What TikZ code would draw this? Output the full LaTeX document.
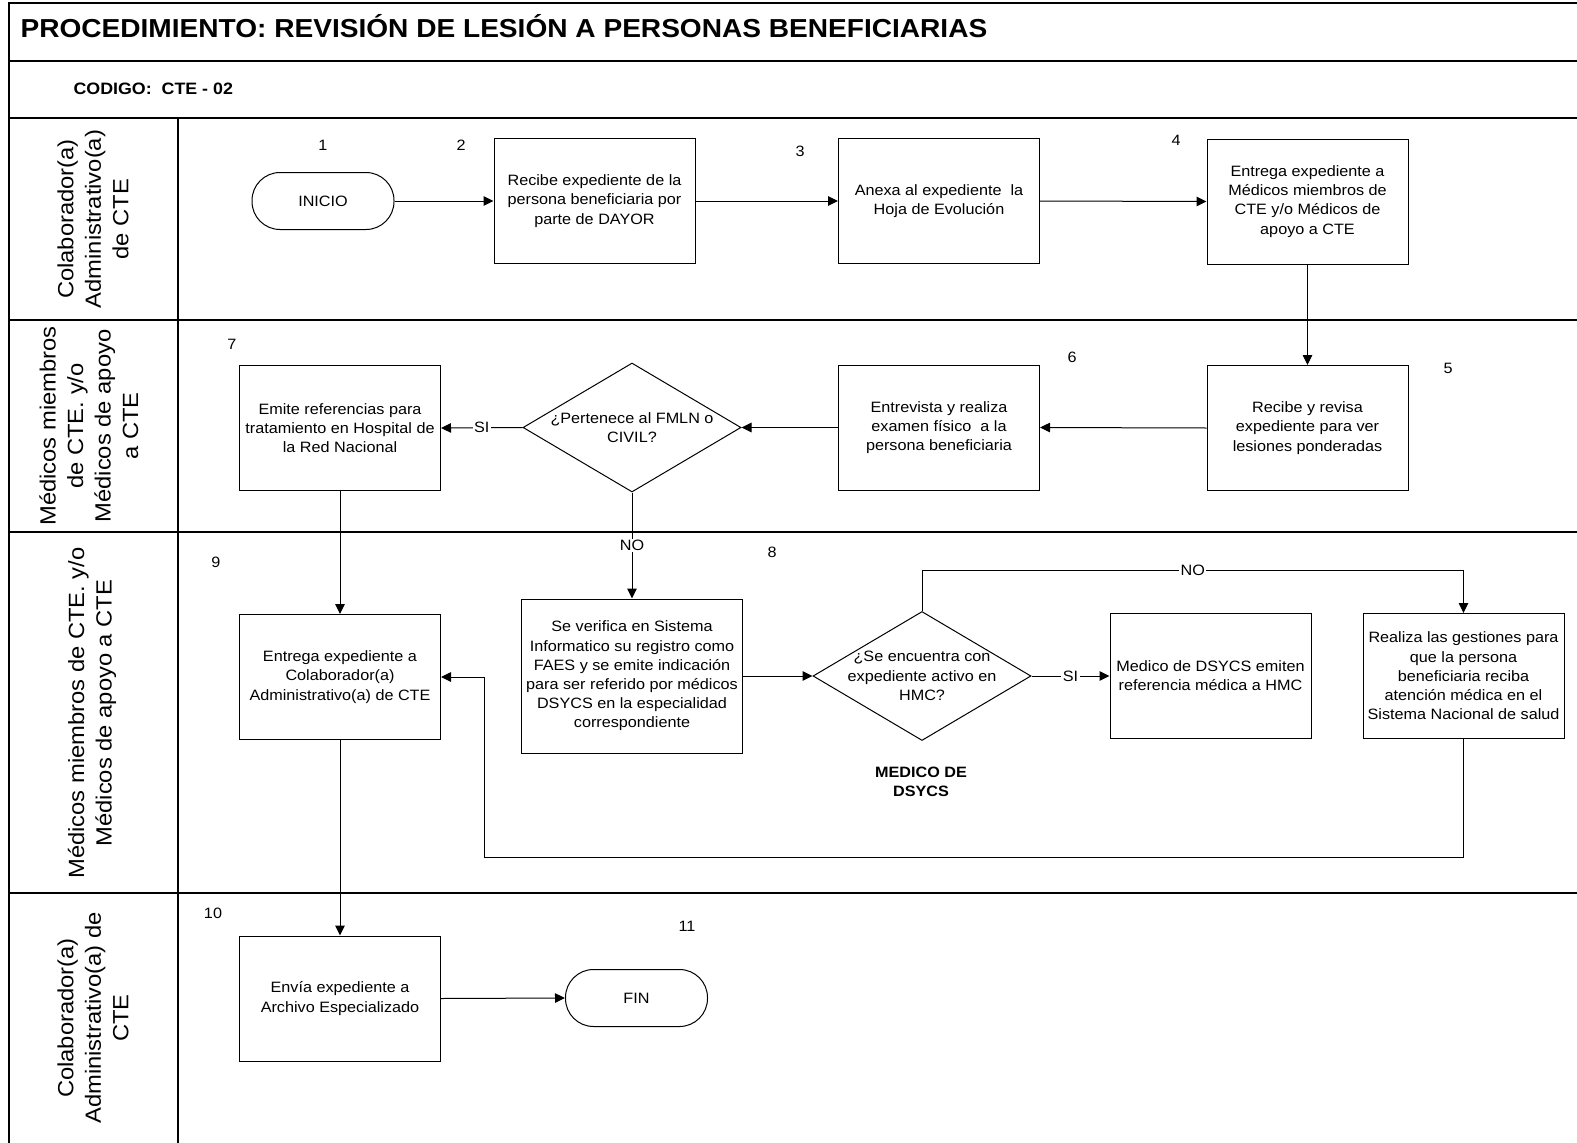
\documentclass[tikz,border=0pt]{standalone}
\usepackage{fontspec}
\setmainfont{Liberation Sans}[FakeStretch=1.08]
\usetikzlibrary{arrows.meta,shapes.geometric}

\begin{document}
\begin{tikzpicture}[x=1pt,y=-1pt,
  frame/.style={line width=1.8pt},
  body/.style={font=\fontsize{15}{19.2}\selectfont},
  box/.style={draw, line width=1pt, minimum width=201pt, minimum height=125pt,
    align=center, inner sep=2pt, body},
  term/.style={draw, line width=1pt, minimum width=142pt, minimum height=57pt,
    rounded corners=28pt, body},
  decision/.style={draw, diamond, line width=1pt, minimum width=218pt,
    minimum height=129pt, inner sep=0pt},
  dtext/.style={align=center, inner sep=0pt, body},
  num/.style={font=\fontsize{15}{18}\selectfont},
  lane/.style={rotate=90, align=center, font=\fontsize{22}{27.5}\selectfont},
  lbl/.style={fill=white, inner sep=1.5pt, font=\fontsize{15}{18}\selectfont},
  flow/.style={line width=1pt, -{Triangle[length=10pt,width=9.5pt]}},
  link/.style={line width=1pt}
]
\useasboundingbox (0,0) rectangle (1577,1143);

% ---- frame and swimlanes ----
\draw[frame] (1577,3) -- (9,3) -- (9,1143);
\draw[frame] (9,61) -- (1577,61);
\draw[frame] (9,118) -- (1577,118);
\draw[frame] (9,320) -- (1577,320);
\draw[frame] (9,532) -- (1577,532);
\draw[frame] (9,893) -- (1577,893);
\draw[frame] (178,118) -- (178,1143);

\node[anchor=base west, font=\fontsize{26}{30}\selectfont\bfseries] (title) at (17,37)
  {PROCEDIMIENTO: REVISIÓN DE LESIÓN A PERSONAS BENEFICIARIAS};
\node[anchor=base west, font=\fontsize{16.5}{20}\selectfont\bfseries] (code) at (70,94)
  {CODIGO:\ \ CTE - 02};

\node[lane] (lane1) at (93,219) {Colaborador(a)\\Administrativo(a)\\de CTE};
\node[lane] (lane2) at (89,426) {Médicos miembros\\de CTE. y/o\\Médicos de apoyo\\a CTE};
\node[lane] (lane3) at (92,713) {Médicos miembros de CTE. y/o\\Médicos de apoyo a CTE};
\node[lane] (lane4) at (93,1018) {Colaborador(a)\\Administrativo(a) de\\CTE};

% ---- step numbers ----
\node[num] (n1) at (323,145) {1};
\node[num] (n2) at (461,145) {2};
\node[num] (n3) at (800,151) {3};
\node[num] (n4) at (1176,140) {4};
\node[num] (n5) at (1448,368) {5};
\node[num] (n6) at (1072,357) {6};
\node[num] (n7) at (232,344) {7};
\node[num] (n8) at (772,552) {8};
\node[num] (n9) at (216,562) {9};
\node[num] (n10) at (213,913) {10};
\node[num] (n11) at (687,926) {11};

% ---- process steps ----
\node[term] (inicio) at (323,201) {INICIO};
\node[box] (b2) at (594.5,201) {Recibe expediente de la\\persona beneficiaria por\\parte de DAYOR};
\node[box] (b3) at (939,201) {Anexa al expediente~ la\\Hoja de Evolución};
\node[box] (b4) at (1307.5,201.5) {Entrega expediente a\\Médicos miembros de\\CTE y/o Médicos de\\apoyo a CTE};
\node[box] (b5) at (1307.5,428) {Recibe y revisa\\expediente para ver\\lesiones ponderadas};
\node[box] (b6) at (939,427.5) {Entrevista y realiza\\examen físico~ a la\\persona beneficiaria};
\node[decision] (d1) at (632,427.5) {};
\node[dtext] (d1t) at (d1.center) {¿Pertenece al FMLN o\\CIVIL?};
\node[box] (b7) at (340,428) {Emite referencias para\\tratamiento en Hospital de\\la Red Nacional};
\node[box, minimum width=221pt, minimum height=154pt] (b8) at (632,676)
  {Se verifica en Sistema\\Informatico su registro como\\FAES y se emite indicación\\para ser referido por médicos\\DSYCS en la especialidad\\correspondiente};
\node[decision] (d2) at (922,676) {};
\node[dtext] (d2t) at (d2.center) {¿Se encuentra con\\expediente activo en\\HMC?};
\node[box] (b11) at (1210.5,676) {Medico de DSYCS emiten\\referencia médica a HMC};
\node[box] (b12) at (1463.5,676) {Realiza las gestiones para\\que la persona\\beneficiaria reciba\\atención médica en el\\Sistema Nacional de salud};
\node[box] (b9) at (340,677) {Entrega expediente a\\Colaborador(a)\\Administrativo(a) de CTE};
\node[box] (b10) at (340,998.5) {Envía expediente a\\Archivo Especializado};
\node[term] (fin) at (636.5,998) {FIN};

\node[align=center, font=\fontsize{15}{19}\selectfont\bfseries] (dsycs) at (921,782)
  {MEDICO DE\\DSYCS};

% ---- connectors ----
\draw[flow] (inicio.east) -- (b2.west);
\draw[flow] (b2.east) -- (b3.west);
\draw[flow] (b3.east) -- (b4.west);
\draw[flow] (b4.south) -- (b5.north);
\draw[flow] (b5.west) -- (b6.east);
\draw[flow] (b6.west) -- (d1.east);
\draw[flow] (d1.west) -- node[lbl] {SI} (b7.east);
\draw[flow] (d1.south) -- node[lbl] {NO} (b8.north);
\draw[flow] (b7.south) -- (b9.north);
\draw[flow] (b8.east) -- (d2.west);
\draw[flow] (d2.east) -- node[lbl] {SI} (b11.west);
\draw[flow] (d2.north) -- ++(0,-41) -| node[lbl, pos=0.25] {NO} (b12.north);
\coordinate (ret) at (484,857);
\draw[flow] (b12.south) |- (ret) |- (b9.east);
\draw[flow] (b9.south) -- (b10.north);
\draw[flow] (b10.east) -- (fin.west);

\end{tikzpicture}
\end{document}
